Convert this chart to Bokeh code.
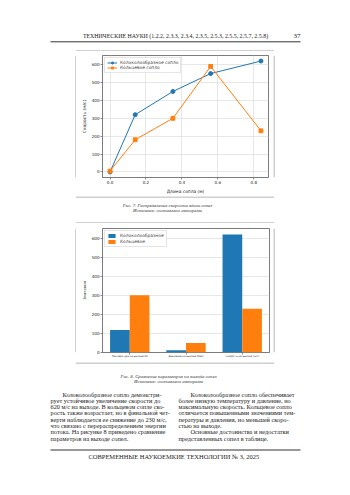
from bokeh.plotting import figure
from bokeh.layouts import column, row
from bokeh.models import Range1d, FixedTicker, Legend, LegendItem
from bokeh.core.properties import value
from bokeh.embed import file_html
from bokeh.resources import INLINE

# ---------------- data ----------------
nozzle_len = [0.0, 0.14, 0.35, 0.56, 0.84]
speed_bell = [0, 320, 450, 550, 620]
speed_ring = [5, 180, 300, 590, 230]
len_ticks = [0.0, 0.2, 0.4, 0.6, 0.8]
speed_ticks = [0, 100, 200, 300, 400, 500, 600]

param_labels = ["Температура на выходе (K)", "Давление на выходе (бар)", "Скорость на выходе (м/с)"]
bell_vals = [118, 12, 620]
ring_vals = [300, 50, 230]

header_text = "ТЕХНИЧЕСКИЕ НАУКИ (1.2.2, 2.3.3, 2.3.4, 2.3.5, 2.5.3, 2.5.5, 2.5.7, 2.5.8)"
page_no = "37"
cap7 = ["Рис. 7. Распределение скорости вдоль сопел", "Источник: составлено авторами"]
cap8 = ["Рис. 8. Сравнение параметров на выходе сопел", "Источник: составлено авторами"]
left_col = [
    "Колоколообразное сопло демонстри-",
    "рует устойчивое увеличение скорости до",
    "620 м/с на выходе. В кольцевом сопле ско-",
    "рость также возрастает, но в финальной чет-",
    "верти наблюдается ее снижение до 230 м/с,",
    "что связано с перераспределением энергии",
    "потока. На рисунке 8 приведено сравнение",
    "параметров на выходе сопел.",
]
right_col = [
    "Колоколообразное сопло обеспечивает",
    "более низкую температуру и давление, но",
    "максимальную скорость. Кольцевое сопло",
    "отличается повышенными значениями тем-",
    "пературы и давления, но меньшей скоро-",
    "стью на выходе.",
    "Основные достоинства и недостатки",
    "представленных сопел в таблице.",
]
footer_text = "СОВРЕМЕННЫЕ НАУКОЕМКИЕ ТЕХНОЛОГИИ   № 3, 2025"

BLUE = "#1f77b4"
ORANGE = "#ff7f0e"
BORDER = "#a0a0a0"
SERIF = value("Liberation Serif")
W = 350


def page_fig(x0, w, y0, h):
    p = figure(width=w, height=h, x_range=Range1d(x0, x0 + w), y_range=Range1d(y0 + h, y0),
               output_backend="svg", toolbar_location=None, x_axis_location=None,
               y_axis_location=None, min_border=0, outline_line_color=None,
               background_fill_color="white", border_fill_color="white")
    p.grid.visible = False
    return p


def style_chart(p):
    p.outline_line_color = "#444444"
    p.outline_line_width = 0.7
    for ax in p.axis:
        ax.axis_line_color = None
        ax.major_tick_out = 2
        ax.major_tick_in = 0
        ax.minor_tick_line_color = None
        ax.major_tick_line_color = "#444444"
        ax.major_tick_line_width = 0.6
        ax.major_label_text_font = "DejaVu Sans"
        ax.major_label_text_font_size = "4.1px"
        ax.major_label_text_color = "#222222"
        ax.major_label_standoff = 1
        ax.axis_label_text_font = "DejaVu Sans"
        ax.axis_label_text_font_style = "normal"
        ax.axis_label_text_font_size = "4.4px"
        ax.axis_label_text_color = "#222222"
        ax.axis_label_standoff = 2


# ---------------- header ----------------
hdr = page_fig(0, W, 0, 51)
hdr.text(x=[175], y=[35.5], text=[header_text], text_font=SERIF, text_font_size="5.9px",
         text_align="center", text_baseline="middle", text_color="#222222")
hdr.text(x=[300], y=[35.5], text=[page_no], text_font=SERIF, text_font_size="7px",
         text_align="right", text_baseline="middle", text_color="#222222")
hdr.segment(x0=[50], y0=[41.3], x1=[300], y1=[41.3], line_color="#333333", line_width=1)
hdr.segment(x0=[75.5], y0=[50.5], x1=[273.5], y1=[50.5], line_color=BORDER, line_width=1)

# ---------------- chart 1 (line) ----------------
c1 = figure(width=197, height=145, x_range=Range1d(-0.042, 0.882), y_range=Range1d(-31, 651),
            output_backend="svg", toolbar_location=None, min_border_left=26, min_border_right=5,
            min_border_top=4, min_border_bottom=17, background_fill_color="white",
            border_fill_color="white")
c1.xaxis.ticker = FixedTicker(ticks=len_ticks)
c1.xaxis.major_label_overrides = {t: f"{t:.1f}" for t in len_ticks}
c1.yaxis.ticker = FixedTicker(ticks=speed_ticks)
c1.xaxis.axis_label = "Длина сопла (м)"
c1.yaxis.axis_label = "Скорость (м/с)"
c1.xgrid.ticker = FixedTicker(ticks=len_ticks)
c1.ygrid.ticker = FixedTicker(ticks=speed_ticks)
c1.grid.grid_line_color = "#dcdcdc"
c1.grid.grid_line_width = 0.7
style_chart(c1)
l1 = c1.line(nozzle_len, speed_bell, line_color=BLUE, line_width=1)
m1 = c1.scatter(nozzle_len, speed_bell, marker="circle", size=4, color=BLUE)
l2 = c1.line(nozzle_len, speed_ring, line_color=ORANGE, line_width=1)
m2 = c1.scatter(nozzle_len, speed_ring, marker="square", size=3.8, color=ORANGE)
leg1 = Legend(items=[LegendItem(label="Колоколообразное сопло", renderers=[l1, m1]),
                     LegendItem(label="Кольцевое сопло", renderers=[l2, m2])],
              location="top_left", label_text_font="DejaVu Sans", label_text_font_size="4.4px",
              label_text_font_style="normal",
              glyph_width=10, glyph_height=5, label_height=5, label_standoff=3, spacing=0,
              padding=2, margin=2, border_line_color="#cccccc", border_line_width=0.6,
              background_fill_alpha=0.9)
c1.add_layout(leg1)

padL1 = page_fig(0, 76, 51, 145)
padL1.segment(x0=[75.5], y0=[51], x1=[75.5], y1=[196], line_color=BORDER, line_width=1)
padR1 = page_fig(273, 77, 51, 145)
padR1.segment(x0=[273.5], y0=[51], x1=[273.5], y1=[196], line_color=BORDER, line_width=1)

# ---------------- middle (caption 7) ----------------
mid = page_fig(0, W, 196, 27)
mid.segment(x0=[75.5], y0=[196.5], x1=[273.5], y1=[196.5], line_color=BORDER, line_width=1)
mid.text(x=[167, 167], y=[204.5, 210], text=cap7, text_font=SERIF, text_font_size="4.8px",
         text_font_style="italic", text_align="center", text_baseline="middle", text_color="#333333")
mid.segment(x0=[75.5], y0=[222.5], x1=[273.5], y1=[222.5], line_color=BORDER, line_width=1)

# ---------------- chart 2 (bars) ----------------
idx = list(range(len(param_labels)))
bw = 0.35
c2 = figure(width=197, height=139, x_range=Range1d(-0.485, 2.485), y_range=Range1d(0, 651),
            output_backend="svg", toolbar_location=None, min_border_left=26, min_border_right=4,
            min_border_top=5, min_border_bottom=10, background_fill_color="white",
            border_fill_color="white")
c2.xaxis.ticker = FixedTicker(ticks=idx)
c2.xaxis.major_label_overrides = {i: lab for i, lab in zip(idx, param_labels)}
c2.yaxis.ticker = FixedTicker(ticks=speed_ticks)
c2.yaxis.axis_label = "Значения"
c2.xgrid.visible = False
c2.ygrid.ticker = FixedTicker(ticks=speed_ticks)
c2.ygrid.grid_line_color = "#dcdcdc"
c2.ygrid.grid_line_width = 0.7
style_chart(c2)
c2.xaxis.major_label_text_font_size = "2.5px"
c2.yaxis.axis_label_text_font_size = "3.7px"
b1 = c2.vbar(x=[i - bw / 2 for i in idx], top=bell_vals, width=bw, fill_color=BLUE, line_color=None)
b2 = c2.vbar(x=[i + bw / 2 for i in idx], top=ring_vals, width=bw, fill_color=ORANGE, line_color=None)
leg2 = Legend(items=[LegendItem(label="Колоколообразное", renderers=[b1]),
                     LegendItem(label="Кольцевое", renderers=[b2])],
              location="top_left", label_text_font="DejaVu Sans", label_text_font_size="4.4px",
              label_text_font_style="normal",
              glyph_width=9, glyph_height=5, label_height=5, label_standoff=4, spacing=1,
              padding=2, margin=2, border_line_color="#cccccc", border_line_width=0.6,
              background_fill_alpha=0.9)
c2.add_layout(leg2)

padL2 = page_fig(0, 76, 223, 139)
padL2.segment(x0=[75.5], y0=[223], x1=[75.5], y1=[362], line_color=BORDER, line_width=1)
padR2 = page_fig(273, 77, 223, 139)
padR2.segment(x0=[273.5], y0=[223], x1=[273.5], y1=[362], line_color=BORDER, line_width=1)

# ---------------- bottom (caption 8, body, footer) ----------------
bot = page_fig(0, W, 362, 133)
bot.segment(x0=[75.5], y0=[362.5], x1=[273.5], y1=[362.5], line_color=BORDER, line_width=1)
bot.text(x=[168, 168], y=[375.5, 381], text=cap8, text_font=SERIF, text_font_size="4.8px",
         text_font_style="italic", text_align="center", text_baseline="middle", text_color="#333333")

line_step = 6.3
y_first = 393.5
ys = [y_first + i * line_step for i in range(len(left_col))]
lx = [62] + [50] * (len(left_col) - 1)
rx = [190, 178, 178, 178, 178, 178, 190, 178]
bot.text(x=lx, y=ys, text=left_col, text_font=SERIF, text_font_size="6.3px",
         text_align="left", text_baseline="middle", text_color="#222222")
bot.text(x=rx, y=ys, text=right_col, text_font=SERIF, text_font_size="6.3px",
         text_align="left", text_baseline="middle", text_color="#222222")

bot.segment(x0=[50], y0=[449.5], x1=[300], y1=[449.5], line_color="#333333", line_width=1)
bot.text(x=[175], y=[456], text=[footer_text], text_font=SERIF, text_font_size="6.5px",
         text_align="center", text_baseline="middle", text_color="#222222")

page = column(hdr, row(padL1, c1, padR1, spacing=0), mid, row(padL2, c2, padR2, spacing=0), bot,
              spacing=0)

open("out.html", "w").write(file_html(page, INLINE))
